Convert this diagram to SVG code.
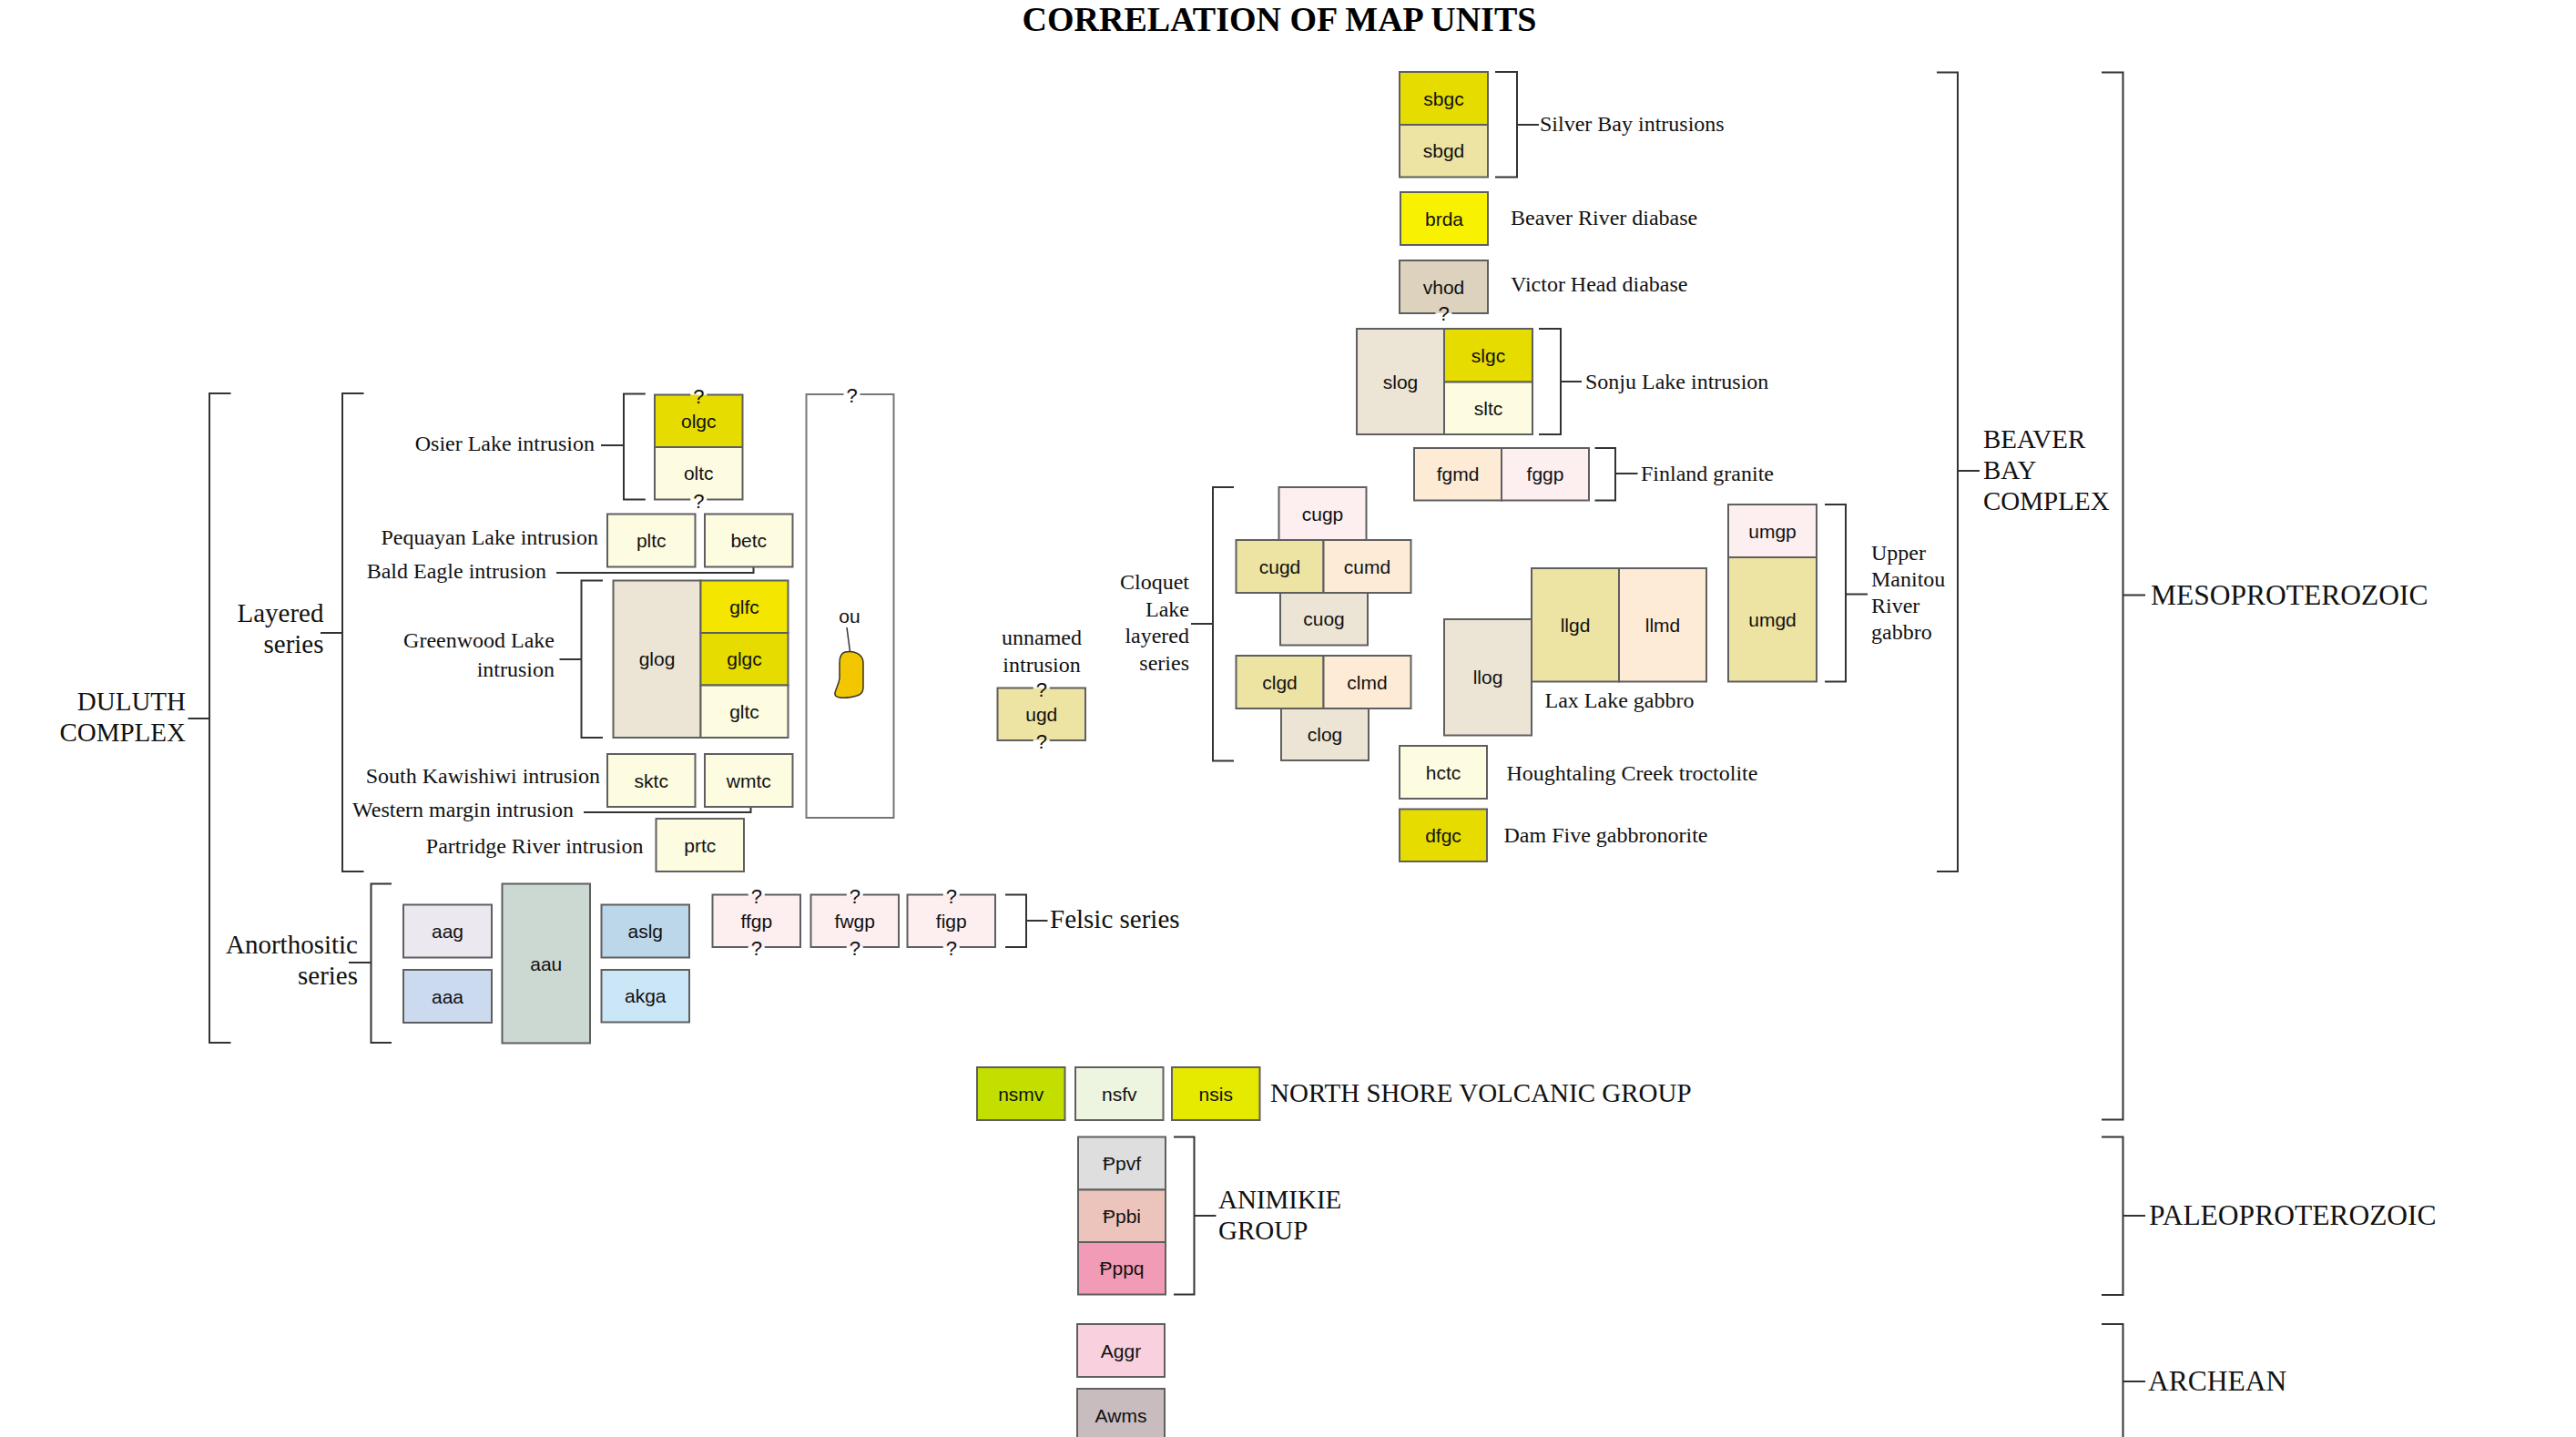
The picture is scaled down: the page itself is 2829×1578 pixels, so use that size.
<svg xmlns="http://www.w3.org/2000/svg" width="2829" height="1578" viewBox="0 0 2829 1578">
<style>
.b{stroke:#5f5f5f;stroke-width:2}
.nf{stroke:none}
.e{fill:none;stroke:#5f5f5f;stroke-width:2}
.br{fill:none;stroke:#333;stroke-width:2}
.lb{font-family:"Liberation Sans",Arial,"DejaVu Sans",sans-serif;font-size:21px;text-anchor:middle;fill:#111}
.q{font-family:"Liberation Sans",Arial,sans-serif;font-size:22px;text-anchor:middle;fill:#111}
.s{font-family:"Liberation Serif","Times New Roman",serif;font-size:24px;fill:#111}
.m{font-family:"Liberation Serif","Times New Roman",serif;font-size:29px;fill:#111}
.p{font-family:"Liberation Serif","Times New Roman",serif;font-size:31.5px;fill:#111}
.t{font-family:"Liberation Serif","Times New Roman",serif;font-size:38px;font-weight:bold;text-anchor:middle;fill:#000}
.end{text-anchor:end}
.mid{text-anchor:middle}
.yo{fill:#e6dc00}.kh{fill:#ede3a3}.by{fill:#f8f200}.ly{fill:#f5e600}.tn{fill:#dcd2bd}
.gy{fill:#ece5d5}.cr{fill:#fdfbe0}.pe{fill:#fdebd6}.pk{fill:#fdeef0}
.lav{fill:#ece8ef}.lbu{fill:#ccdaef}.gg{fill:#ccd8d2}.bu{fill:#bcd6ea}.sky{fill:#cbe6f7}
.gr{fill:#c3df00}.pg{fill:#edf5e0}.ny{fill:#e6ea00}.lg{fill:#dedede}.sal{fill:#ecc4bb}.hp{fill:#f29bb6}.pp{fill:#f9d1de}.mv{fill:#c9bcbf}
</style>

<text class="t" x="1405" y="34">CORRELATION OF MAP UNITS</text>

<g id="connectors">
<path class="br" d="M1642,79 H1666 V194.5 H1642 M1666,137 H1690"/>
<path class="br" d="M1690,361 H1714 V477 H1690 M1714,419 H1737"/>
<path class="br" d="M1751.5,492 H1774 V549.5 H1751.5 M1774,520 H1798.5"/>
<path class="br" d="M2004,554 H2027 V748.5 H2004 M2027,652.5 H2051"/>
<path class="br" d="M1355,535 H1332 V835.5 H1355 M1332,685 H1308"/>
<path class="br" d="M2127,79.5 H2150 V957 H2127 M2150,517 H2174"/>
<path class="br" d="M2308,79.5 H2331.5 V1229.5 H2308 M2331.5,653.5 H2356"/>
<path class="br" d="M2308,1248.5 H2331.5 V1422 H2308 M2331.5,1335 H2356"/>
<path class="br" d="M2308,1454 H2331.5 V1590 M2331.5,1517 H2356"/>
<path class="br" d="M1289,1248.5 H1311.5 V1421.5 H1289 M1311.5,1335 H1335.5"/>
<path class="br" d="M1104,982.5 H1127 V1040 H1104 M1127,1011 H1150.5"/>
<path class="br" d="M430,970.5 H407.5 V1145 H430 M407.5,1057 H383"/>
<path class="br" d="M399.5,432 H376 V957 H399.5 M376,695 H352"/>
<path class="br" d="M253.5,432 H230 V1145 H253.5 M230,789 H206.5"/>
<path class="br" d="M708.8,432.5 H685 V548.5 H708.8 M685,489 H660"/>
<path class="br" d="M662,637.5 H638.5 V810 H662 M638.5,724 H614.5"/>
<path class="br" d="M611,629 H827.5 V622.5"/>
<path class="br" d="M641,892 H824.5 V886"/>
<path fill="none" stroke="#333" stroke-width="1.5" d="M930,689 L935,727"/>
</g>

<g id="labels">
<text class="s" x="1691" y="144">Silver Bay intrusions</text>
<text class="s" x="1659" y="247">Beaver River diabase</text>
<text class="s" x="1659" y="320">Victor Head diabase</text>
<text class="s" x="1741" y="427">Sonju Lake intrusion</text>
<text class="s" x="1802" y="528">Finland granite</text>
<text class="s" x="2055" y="615">Upper</text>
<text class="s" x="2055" y="644">Manitou</text>
<text class="s" x="2055" y="673">River</text>
<text class="s" x="2055" y="702">gabbro</text>
<text class="s end" x="1306" y="647">Cloquet</text>
<text class="s end" x="1306" y="676.5">Lake</text>
<text class="s end" x="1306" y="706">layered</text>
<text class="s end" x="1306" y="735.5">series</text>
<text class="s" x="1696.5" y="777">Lax Lake gabbro</text>
<text class="s" x="1654.5" y="856.5">Houghtaling Creek troctolite</text>
<text class="s" x="1651.5" y="925">Dam Five gabbronorite</text>
<text class="m" x="2178" y="492">BEAVER</text>
<text class="m" x="2178" y="526">BAY</text>
<text class="m" x="2178" y="560">COMPLEX</text>
<text class="p" x="2362" y="664">MESOPROTEROZOIC</text>
<text class="p" x="2360" y="1345">PALEOPROTEROZOIC</text>
<text class="p" x="2359" y="1527">ARCHEAN</text>
<text class="m" x="1338" y="1326.5">ANIMIKIE</text>
<text class="m" x="1338" y="1361">GROUP</text>
<text class="m" x="1395" y="1210">NORTH SHORE VOLCANIC GROUP</text>
<text class="m" x="1153" y="1019">Felsic series</text>
<text class="m end" x="393" y="1047">Anorthositic</text>
<text class="m end" x="393" y="1081">series</text>
<text class="m end" x="355.5" y="683">Layered</text>
<text class="m end" x="355.5" y="717">series</text>
<text class="m end" x="204" y="780">DULUTH</text>
<text class="m end" x="204" y="814">COMPLEX</text>
<text class="s end" x="653" y="495">Osier Lake intrusion</text>
<text class="s end" x="657" y="598">Pequayan Lake intrusion</text>
<text class="s end" x="600" y="635">Bald Eagle intrusion</text>
<text class="s end" x="609" y="711">Greenwood Lake</text>
<text class="s end" x="609" y="742.5">intrusion</text>
<text class="s end" x="659" y="860">South Kawishiwi intrusion</text>
<text class="s end" x="630" y="896.5">Western margin intrusion</text>
<text class="s end" x="706.5" y="936.5">Partridge River intrusion</text>
<text class="s mid" x="1144" y="707.5">unnamed</text>
<text class="s mid" x="1144" y="738">intrusion</text>
</g>

<g id="sbgc"><rect class="b yo" x="1537" y="79" width="97" height="58"/><text class="lb" x="1585.5" y="115.5">sbgc</text></g>
<g id="sbgd"><rect class="b kh" x="1537" y="137" width="97" height="57.5"/><text class="lb" x="1585.5" y="173">sbgd</text></g>
<g id="brda"><rect class="b by" x="1538" y="211" width="96" height="58"/><text class="lb" x="1586" y="247.5">brda</text></g>
<g id="vhod"><rect class="nf tn" x="1537" y="286" width="97" height="58"/><path class="e" d="M1576.5,344 H1537 V286 H1634 V344 H1594.5"/><text class="lb" x="1585.5" y="322.5">vhod</text><text class="q" x="1585.5" y="352">?</text></g>
<g id="slog"><rect class="b gy" x="1490" y="361" width="96" height="116"/><text class="lb" x="1538" y="426.5">slog</text></g>
<g id="slgc"><rect class="b yo" x="1586" y="361" width="97" height="58.5"/><text class="lb" x="1634.5" y="397.5">slgc</text></g>
<g id="sltc"><rect class="b cr" x="1586" y="419.5" width="97" height="57.5"/><text class="lb" x="1634.5" y="455.5">sltc</text></g>
<g id="fgmd"><rect class="b pe" x="1553" y="492" width="96" height="57.5"/><text class="lb" x="1601" y="528">fgmd</text></g>
<g id="fggp"><rect class="b pk" x="1649" y="492" width="96" height="57.5"/><text class="lb" x="1697" y="528">fggp</text></g>
<g id="cugp"><rect class="b pk" x="1404.5" y="535" width="96" height="58"/><text class="lb" x="1452.5" y="571.5">cugp</text></g>
<g id="cugd"><rect class="b kh" x="1357.5" y="593" width="96" height="58"/><text class="lb" x="1405.5" y="629.5">cugd</text></g>
<g id="cumd"><rect class="b pe" x="1453.5" y="593" width="96" height="58"/><text class="lb" x="1501.5" y="629.5">cumd</text></g>
<g id="cuog"><rect class="b gy" x="1406" y="651" width="96" height="57.5"/><text class="lb" x="1454" y="687">cuog</text></g>
<g id="clgd"><rect class="b kh" x="1357.5" y="720" width="96" height="58"/><text class="lb" x="1405.5" y="756.5">clgd</text></g>
<g id="clmd"><rect class="b pe" x="1453.5" y="720" width="96" height="58"/><text class="lb" x="1501.5" y="756.5">clmd</text></g>
<g id="clog"><rect class="b gy" x="1407" y="778" width="96" height="57"/><text class="lb" x="1455" y="814">clog</text></g>
<g id="llog"><rect class="b gy" x="1586" y="680" width="96" height="127.5"/><text class="lb" x="1634" y="751">llog</text></g>
<g id="llgd"><rect class="b kh" x="1682" y="624" width="96" height="124.5"/><text class="lb" x="1730" y="693.5">llgd</text></g>
<g id="llmd"><rect class="b pe" x="1778" y="624" width="96" height="124.5"/><text class="lb" x="1826" y="693.5">llmd</text></g>
<g id="umgp"><rect class="b pk" x="1898" y="554" width="97" height="58"/><text class="lb" x="1946.5" y="590.5">umgp</text></g>
<g id="umgd"><rect class="b kh" x="1898" y="612" width="97" height="136.5"/><text class="lb" x="1946.5" y="687.5">umgd</text></g>
<g id="hctc"><rect class="b cr" x="1537" y="819" width="96" height="58"/><text class="lb" x="1585" y="855.5">hctc</text></g>
<g id="dfgc"><rect class="b yo" x="1537" y="888.5" width="96" height="57.5"/><text class="lb" x="1585" y="924.5">dfgc</text></g>

<g id="olgc"><rect class="nf yo" x="719" y="433.5" width="96.5" height="57.5"/><text class="lb" x="767.25" y="469.5">olgc</text></g>
<g id="oltc"><rect class="nf cr" x="719" y="491" width="96.5" height="57.5"/><text class="lb" x="767.25" y="527">oltc</text></g>
<g id="osier-edges"><path class="e" d="M758.25,433.5 H719 V548.5 H758.25 M776.25,548.5 H815.5 V433.5 H776.25 M719,491 H815.5"/><text class="q" x="767.25" y="442.5">?</text><text class="q" x="767.25" y="557.5">?</text></g>
<g id="pltc"><rect class="b cr" x="667" y="564.5" width="96.5" height="58"/><text class="lb" x="715.25" y="601">pltc</text></g>
<g id="betc"><rect class="b cr" x="774" y="564.5" width="96.5" height="58"/><text class="lb" x="822.25" y="601">betc</text></g>
<g id="glog"><rect class="b gy" x="673.5" y="637.5" width="96" height="172.5"/><text class="lb" x="721.5" y="731">glog</text></g>
<g id="glfc"><rect class="b ly" x="769.5" y="637.5" width="96" height="57.5"/><text class="lb" x="817.5" y="673.5">glfc</text></g>
<g id="glgc"><rect class="b yo" x="769.5" y="695" width="96" height="57.5"/><text class="lb" x="817.5" y="731">glgc</text></g>
<g id="gltc"><rect class="b cr" x="769.5" y="752.5" width="96" height="57.5"/><text class="lb" x="817.5" y="788.5">gltc</text></g>
<g id="sktc"><rect class="b cr" x="667" y="828" width="96.5" height="58"/><text class="lb" x="715.25" y="864.5">sktc</text></g>
<g id="wmtc"><rect class="b cr" x="774" y="828" width="96.5" height="58"/><text class="lb" x="822.25" y="864.5">wmtc</text></g>
<g id="prtc"><rect class="b cr" x="720.5" y="899" width="96.5" height="58"/><text class="lb" x="768.75" y="935.5">prtc</text></g>
<g id="ou"><path fill="none" stroke="#777" stroke-width="2" d="M926.5,433 H885.5 V898 H981.5 V433 H944.5"/><text class="q" x="935.5" y="442">?</text><text class="lb" x="933" y="684">ou</text><path fill="#f2c700" stroke="#333" stroke-width="1.5" d="M928,716 C938,714 947,718 948,727 L948,755 C948,762 943,764 935,765.5 C926,767 916,767 917,761 C918,756 921,752 922,745 L922,728 C922,720 924,717 928,716 Z"/></g>
<g id="ugd"><rect class="nf kh" x="1095.5" y="755.5" width="96.5" height="57.5"/><path class="e" d="M1134.75,755.5 H1095.5 V813 H1134.75 M1152.75,813 H1192 V755.5 H1152.75"/><text class="lb" x="1143.75" y="791.5">ugd</text><text class="q" x="1143.75" y="764.5">?</text><text class="q" x="1143.75" y="822">?</text></g>
<g id="aag"><rect class="b lav" x="443" y="993.5" width="97" height="58"/><text class="lb" x="491.5" y="1030">aag</text></g>
<g id="aaa"><rect class="b lbu" x="443" y="1065" width="97" height="58"/><text class="lb" x="491.5" y="1101.5">aaa</text></g>
<g id="aau"><rect class="b gg" x="551.5" y="970.5" width="96.5" height="175"/><text class="lb" x="599.75" y="1065.5">aau</text></g>
<g id="aslg"><rect class="b bu" x="660.5" y="993.5" width="96.5" height="58"/><text class="lb" x="708.75" y="1030">aslg</text></g>
<g id="akga"><rect class="b sky" x="660.5" y="1065" width="96.5" height="57.5"/><text class="lb" x="708.75" y="1101">akga</text></g>
<g id="ffgp"><rect class="nf pk" x="782.5" y="982.5" width="96.5" height="57.5"/><path class="e" d="M821.75,982.5 H782.5 V1040 H821.75 M839.75,1040 H879 V982.5 H839.75"/><text class="lb" x="830.75" y="1018.5">ffgp</text><text class="q" x="830.75" y="991.5">?</text><text class="q" x="830.75" y="1049">?</text></g>
<g id="fwgp"><rect class="nf pk" x="890.5" y="982.5" width="96.5" height="57.5"/><path class="e" d="M929.75,982.5 H890.5 V1040 H929.75 M947.75,1040 H987 V982.5 H947.75"/><text class="lb" x="938.75" y="1018.5">fwgp</text><text class="q" x="938.75" y="991.5">?</text><text class="q" x="938.75" y="1049">?</text></g>
<g id="figp"><rect class="nf pk" x="996.5" y="982.5" width="96.5" height="57.5"/><path class="e" d="M1035.75,982.5 H996.5 V1040 H1035.75 M1053.75,1040 H1093 V982.5 H1053.75"/><text class="lb" x="1044.75" y="1018.5">figp</text><text class="q" x="1044.75" y="991.5">?</text><text class="q" x="1044.75" y="1049">?</text></g>
<g id="nsmv"><rect class="b gr" x="1073" y="1172" width="96.5" height="58"/><text class="lb" x="1121.25" y="1208.5">nsmv</text></g>
<g id="nsfv"><rect class="b pg" x="1181" y="1172" width="96.5" height="58"/><text class="lb" x="1229.25" y="1208.5">nsfv</text></g>
<g id="nsis"><rect class="b ny" x="1287" y="1172" width="96.5" height="58"/><text class="lb" x="1335.25" y="1208.5">nsis</text></g>
<g id="Ppvf"><rect class="b lg" x="1184" y="1248.5" width="96" height="58"/><text class="lb" x="1232" y="1285">Ᵽpvf</text></g>
<g id="Ppbi"><rect class="b sal" x="1184" y="1306.5" width="96" height="57.5"/><text class="lb" x="1232" y="1342.5">Ᵽpbi</text></g>
<g id="Pppq"><rect class="b hp" x="1184" y="1364" width="96" height="57.5"/><text class="lb" x="1232" y="1400">Ᵽppq</text></g>
<g id="Aggr"><rect class="b pp" x="1183" y="1454" width="96" height="58"/><text class="lb" x="1231" y="1490.5">Aggr</text></g>
<g id="Awms"><rect class="b mv" x="1183" y="1525" width="96" height="58"/><text class="lb" x="1231" y="1561.5">Awms</text></g>
</svg>
